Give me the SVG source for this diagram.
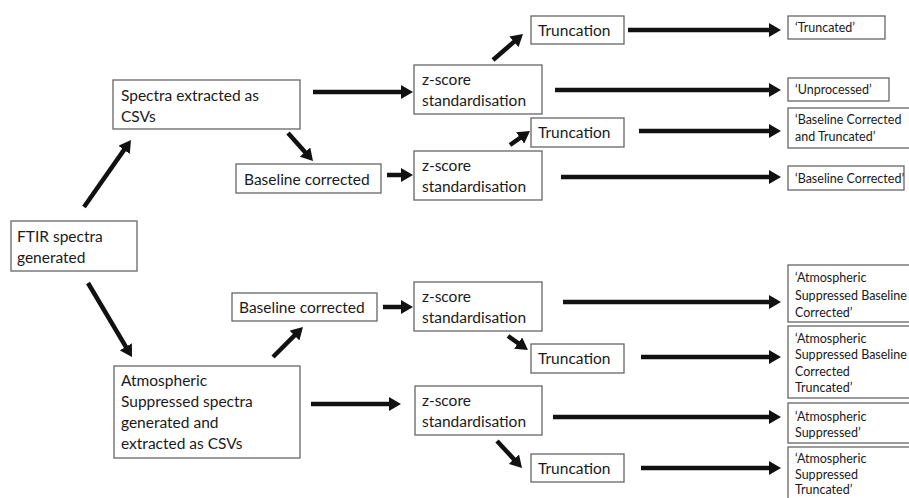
<svg xmlns="http://www.w3.org/2000/svg" width="909" height="498" viewBox="0 0 909 498">
<style>
.box{fill:#fff;stroke:#666;stroke-width:1.3}
.t{font-family:Lato,"Open Sans","Liberation Sans",sans-serif;font-size:15.5px;fill:#1a1a1a}
.s{font-family:Lato,"Open Sans","Liberation Sans",sans-serif;font-size:12.5px;fill:#1a1a1a}
.a{stroke:#111;stroke-width:4.5;fill:none;marker-end:url(#ah)}
</style>
<defs>
<marker id="ah" viewBox="0 0 12 14" refX="3" refY="7" markerWidth="12" markerHeight="14" markerUnits="userSpaceOnUse" orient="auto">
<path d="M0,0 L12,7 L0,14 z" fill="#111"/>
</marker>
</defs>
<rect width="909" height="498" fill="#fff"/>
<g id="connectors">
<line class="a" x1="84" y1="207" x2="125.8" y2="147.4"/>
<line class="a" x1="88" y1="283" x2="127.4" y2="349.3"/>
<line class="a" x1="313" y1="92" x2="404" y2="92"/>
<line class="a" x1="288" y1="133" x2="307" y2="154.3"/>
<line class="a" x1="387" y1="175" x2="404" y2="175"/>
<line class="a" x1="493" y1="60" x2="516.2" y2="39.9"/>
<line class="a" x1="628" y1="30" x2="772" y2="30"/>
<line class="a" x1="555" y1="90" x2="772" y2="90"/>
<line class="a" x1="510" y1="145" x2="522.6" y2="136.2"/>
<line class="a" x1="639" y1="131" x2="772" y2="131"/>
<line class="a" x1="561" y1="177" x2="772" y2="177"/>
<line class="a" x1="273" y1="357" x2="296.6" y2="333.4"/>
<line class="a" x1="383" y1="307" x2="404" y2="307"/>
<line class="a" x1="311" y1="404" x2="392" y2="404"/>
<line class="a" x1="563" y1="302" x2="772" y2="302"/>
<line class="a" x1="508" y1="336" x2="520.6" y2="344.8"/>
<line class="a" x1="641" y1="357" x2="772" y2="357"/>
<line class="a" x1="553" y1="417" x2="772" y2="417"/>
<line class="a" x1="497" y1="441" x2="515.9" y2="461.4"/>
<line class="a" x1="641" y1="468" x2="772" y2="468"/>
</g>
<g id="ftir"><rect class="box" x="11" y="221" width="126" height="50"/><text class="t" x="17" y="242">FTIR spectra</text><text class="t" x="17" y="263">generated</text></g>
<g id="spectra"><rect class="box" x="113" y="80" width="187" height="49"/><text class="t" x="121" y="101">Spectra extracted as</text><text class="t" x="121" y="122">CSVs</text></g>
<g id="baseline1"><rect class="box" x="236" y="164" width="145" height="29"/><text class="t" x="244" y="185">Baseline corrected</text></g>
<g id="z1"><rect class="box" x="414" y="65" width="128" height="49"/><text class="t" x="422" y="85">z-score</text><text class="t" x="422" y="106">standardisation</text></g>
<g id="z2"><rect class="box" x="414" y="151" width="128" height="49"/><text class="t" x="422" y="171">z-score</text><text class="t" x="422" y="192">standardisation</text></g>
<g id="trunc1"><rect class="box" x="531" y="16" width="93" height="28"/><text class="t" x="538" y="36">Truncation</text></g>
<g id="trunc2"><rect class="box" x="531" y="118" width="93" height="29"/><text class="t" x="538" y="138">Truncation</text></g>
<g id="atmos"><rect class="box" x="114" y="366" width="186" height="92"/><text class="t" x="121" y="386">Atmospheric</text><text class="t" x="121" y="407">Suppressed spectra</text><text class="t" x="121" y="428">generated and</text><text class="t" x="121" y="449">extracted as CSVs</text></g>
<g id="baseline2"><rect class="box" x="232" y="293" width="145" height="28"/><text class="t" x="239" y="313">Baseline corrected</text></g>
<g id="z3"><rect class="box" x="414" y="282" width="128" height="49"/><text class="t" x="422" y="302">z-score</text><text class="t" x="422" y="323">standardisation</text></g>
<g id="z4"><rect class="box" x="415" y="386" width="127" height="49"/><text class="t" x="422" y="406">z-score</text><text class="t" x="422" y="427">standardisation</text></g>
<g id="trunc3"><rect class="box" x="531" y="344" width="93" height="29"/><text class="t" x="538" y="364">Truncation</text></g>
<g id="trunc4"><rect class="box" x="531" y="454" width="93" height="28"/><text class="t" x="538" y="474">Truncation</text></g>
<g id="out-truncated"><rect class="box" x="788" y="16" width="97" height="23"/><text class="s" x="795" y="32">‘Truncated’</text></g>
<g id="out-unprocessed"><rect class="box" x="788" y="78" width="101" height="23"/><text class="s" x="795" y="94">‘Unprocessed’</text></g>
<g id="out-bct"><rect class="box" x="788" y="108" width="125" height="40"/><text class="s" x="795" y="124">‘Baseline Corrected</text><text class="s" x="795" y="141">and Truncated’</text></g>
<g id="out-bc"><rect class="box" x="788" y="166" width="116" height="24"/><text class="s" x="795" y="183">‘Baseline Corrected’</text></g>
<g id="out-asbc"><rect class="box" x="788" y="265" width="125" height="57"/><text class="s" x="795" y="282">‘Atmospheric</text><text class="s" x="795" y="300">Suppressed Baseline</text><text class="s" x="795" y="317">Corrected’</text></g>
<g id="out-asbct"><rect class="box" x="788" y="326" width="125" height="72"/><text class="s" x="795" y="343">‘Atmospheric</text><text class="s" x="795" y="359">Suppressed Baseline</text><text class="s" x="795" y="376">Corrected</text><text class="s" x="795" y="392">Truncated’</text></g>
<g id="out-as"><rect class="box" x="788" y="403" width="125" height="40"/><text class="s" x="795" y="421">‘Atmospheric</text><text class="s" x="795" y="437">Suppressed’</text></g>
<g id="out-ast"><rect class="box" x="788" y="447" width="125" height="60"/><text class="s" x="795" y="463">‘Atmospheric</text><text class="s" x="795" y="479">Suppressed</text><text class="s" x="795" y="494">Truncated’</text></g>
</svg>
